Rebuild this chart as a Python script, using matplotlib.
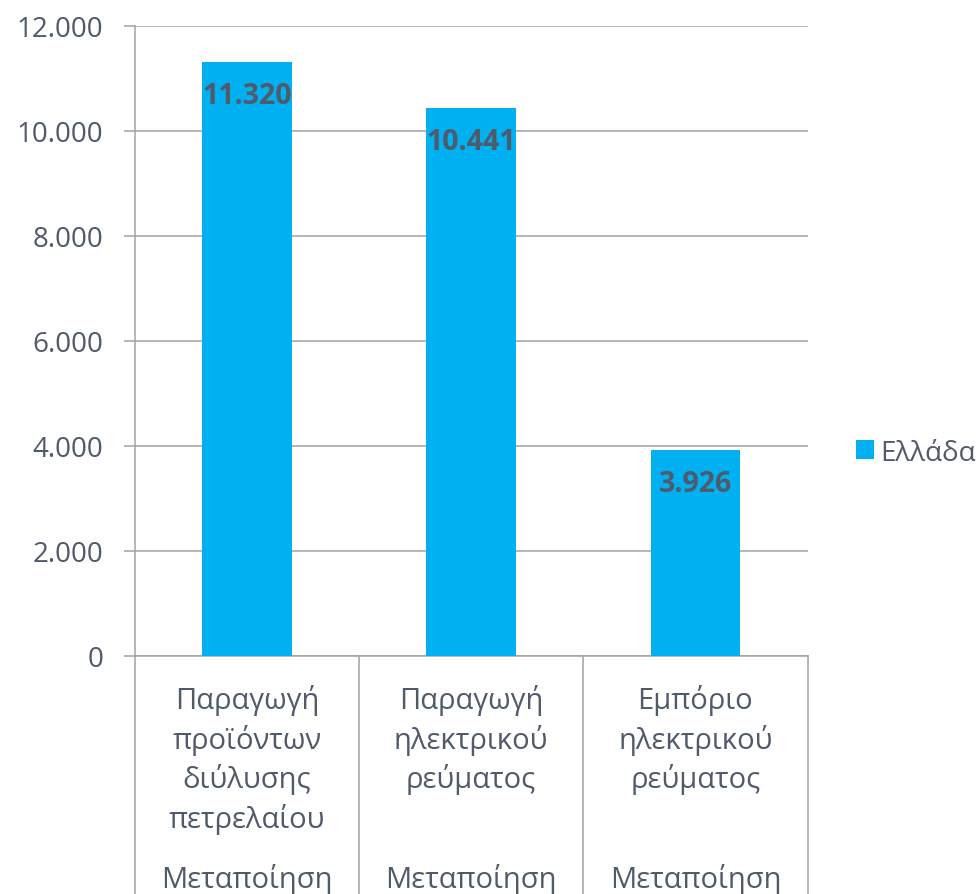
import numpy as np
import matplotlib
matplotlib.use("Agg")
import matplotlib.pyplot as plt
from matplotlib.patches import Patch

plt.rcParams['font.family'] = ['Open Sans', 'DejaVu Sans']

categories = ['Παραγωγή\nπροϊόντων\nδιύλυσης\nπετρελαίου',
              'Παραγωγή\nηλεκτρικού\nρεύματος',
              'Εμπόριο\nηλεκτρικού\nρεύματος']
groups = ['Μεταποίηση', 'Μεταποίηση', 'Μεταποίηση']
values = [11320, 10441, 3926]
value_labels = ['11.320', '10.441', '3.926']
yticks = [0, 2000, 4000, 6000, 8000, 10000, 12000]
ytick_labels = ['0', '2.000', '4.000', '6.000', '8.000', '10.000', '12.000']
series_name = 'Ελλάδα'

bar_color = '#00B0F0'
text_color = '#4f5a6b'
grid_color = '#a0a1aa'

fig = plt.figure(figsize=(9.8, 8.95), dpi=100)
ax = fig.add_axes([135 / 980, 1 - 657 / 895, 672.5 / 980, 630 / 895])

x = np.arange(len(values))
ax.bar(x, values, width=0.4, color=bar_color, zorder=3)
ax.set_xlim(-0.5, len(values) - 0.5)
ax.set_ylim(0, 12000)

ax.set_yticks(yticks)
ax.set_yticklabels(ytick_labels)
ax.tick_params(axis='y', length=8, width=1.1, color=grid_color, pad=15,
               labelsize=20, labelcolor=text_color)
ax.set_xticks([])
ax.grid(axis='y', color=grid_color, linewidth=1.1, zorder=0)

for s in ['top', 'right']:
    ax.spines[s].set_visible(False)
ax.spines['left'].set_color(grid_color)
ax.spines['left'].set_linewidth(1.1)
ax.spines['bottom'].set_color(grid_color)
ax.spines['bottom'].set_linewidth(1.1)

# value labels inside bars
for xi, v, lab in zip(x, values, value_labels):
    ax.annotate(lab, (xi, v), xytext=(0, -24), textcoords='offset points',
                ha='center', va='center', fontsize=20.5, fontweight='bold',
                color=text_color, zorder=4)

# category separators below axis
trans = ax.get_xaxis_transform()
for b in np.arange(len(values) + 1) - 0.5:
    ax.plot([b, b], [0, -238 / 630], transform=trans, color=grid_color,
            linewidth=1.1, clip_on=False)

for xi, cat, grp in zip(x, categories, groups):
    ax.text(xi, -28 / 630, cat, transform=trans, ha='center', va='top',
            fontsize=21, color=text_color, linespacing=1.36)
    ax.text(xi, -231 / 630, grp, transform=trans, ha='center', va='baseline',
            fontsize=21, color=text_color)

handles = [Patch(facecolor=bar_color, edgecolor='none', label=series_name)]
ax.legend(handles=handles, loc='center left', bbox_to_anchor=(1.055, 0.323),
          frameon=False, fontsize=20, labelcolor=text_color,
          handlelength=0.65, handleheight=0.65, handletextpad=0.25,
          borderaxespad=0)

fig.savefig('out.png', dpi=100)
